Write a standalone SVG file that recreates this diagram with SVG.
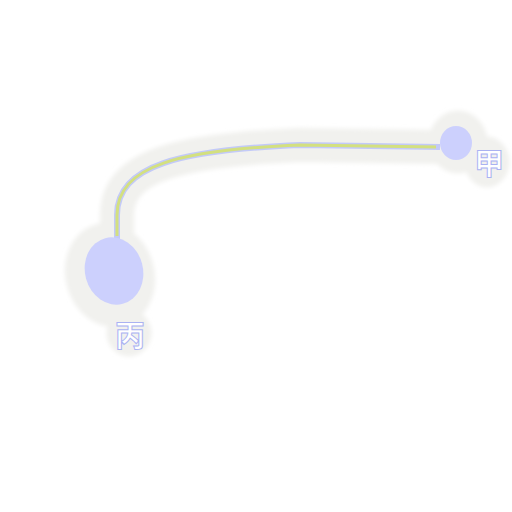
<svg xmlns="http://www.w3.org/2000/svg" width="512" height="512" viewBox="0 0 512 512">
<defs>
<filter id="soft" x="-20%" y="-20%" width="140%" height="140%"><feGaussianBlur stdDeviation="2"/></filter>
<style>
.halo{fill:#f1f1ee;stroke:#f1f1ee;stroke-linejoin:round;stroke-linecap:round}
.node{fill:#ccd0fd}
.lbl{font-family:"Noto Sans CJK SC","Noto Sans CJK JP",sans-serif;font-size:30px;font-weight:bold;fill:#ffffff;stroke:#aab2f2;stroke-width:1;text-anchor:middle}
</style>
</defs>
<g id="halo" filter="url(#soft)">
<path d="M117,242 L117,215 C117,165 180,150 300,145 L440,147" fill="none" stroke="#f1f1ee" stroke-width="34" stroke-linecap="round"/>
<ellipse cx="110" cy="275" rx="44" ry="52" class="halo" transform="rotate(-15 110 275)"/>
<ellipse cx="129" cy="333" rx="22" ry="23" class="halo"/>
<ellipse cx="458" cy="142" rx="29" ry="31" class="halo"/>
<ellipse cx="487" cy="162" rx="22" ry="25" class="halo"/>
</g>
<g id="connectors">
<path d="M117,242 L117,215 C117,165 180,150 300,145 L440,147" fill="none" stroke="#c3caf8" stroke-width="6"/>
<path d="M117,236 L117,215 C117,165 180,150 300,145 L436,147" fill="none" stroke="#d3e07f" stroke-width="3"/>
</g>
<g id="node-bing">
<ellipse cx="114" cy="271" rx="29" ry="34" class="node" transform="rotate(-15 114 271)"/>
<text x="130" y="346" class="lbl">丙</text>
</g>
<g id="node-jia">
<ellipse cx="456" cy="143" rx="16" ry="17" class="node"/>
<text x="489" y="174" class="lbl">甲</text>
</g>
</svg>
